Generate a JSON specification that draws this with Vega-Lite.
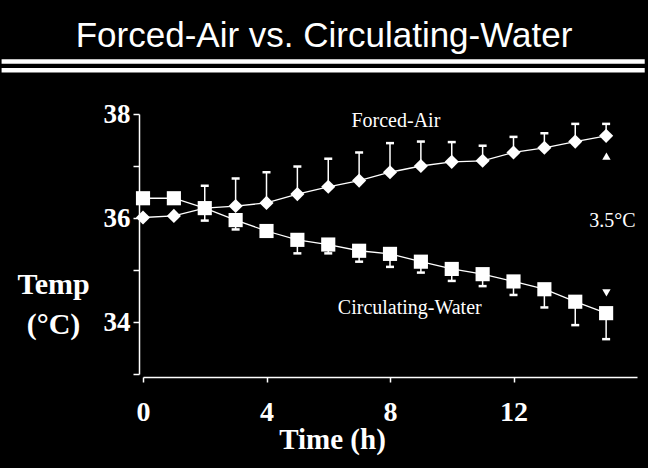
{
  "$schema": "https://vega.github.io/schema/vega-lite/v6.json",
  "width": 494,
  "height": 260,
  "autosize": {"type": "none"},
  "padding": {"left": 143, "top": 114, "right": 11, "bottom": 94},
  "background": "black",
  "config": {"view": {"stroke": null}},
  "title": {
    "text": "Forced-Air vs. Circulating-Water",
    "font": "Liberation Sans",
    "fontSize": 35,
    "fontWeight": "normal",
    "color": "white",
    "anchor": "middle",
    "frame": "group",
    "baseline": "alphabetic",
    "offset": 12,
    "dx": -66,
    "dy": 35
  },
  "datasets": {
    "series": [
      {"group": "Forced-Air", "hour": 0, "temp": 36.01, "err": null},
      {"group": "Forced-Air", "hour": 1, "temp": 36.04, "err": null},
      {"group": "Forced-Air", "hour": 2, "temp": 36.19, "err": 36.62},
      {"group": "Forced-Air", "hour": 3, "temp": 36.23, "err": 36.76},
      {"group": "Forced-Air", "hour": 4, "temp": 36.29, "err": 36.88},
      {"group": "Forced-Air", "hour": 5, "temp": 36.46, "err": 36.99},
      {"group": "Forced-Air", "hour": 6, "temp": 36.60, "err": 37.14},
      {"group": "Forced-Air", "hour": 7, "temp": 36.72, "err": 37.26},
      {"group": "Forced-Air", "hour": 8, "temp": 36.88, "err": 37.44},
      {"group": "Forced-Air", "hour": 9, "temp": 37.00, "err": 37.47},
      {"group": "Forced-Air", "hour": 10, "temp": 37.08, "err": 37.46},
      {"group": "Forced-Air", "hour": 11, "temp": 37.10, "err": 37.39},
      {"group": "Forced-Air", "hour": 12, "temp": 37.26, "err": 37.56},
      {"group": "Forced-Air", "hour": 13, "temp": 37.35, "err": 37.63},
      {"group": "Forced-Air", "hour": 14, "temp": 37.47, "err": 37.81},
      {"group": "Forced-Air", "hour": 15, "temp": 37.58, "err": 37.81},
      {"group": "Circulating-Water", "hour": 0, "temp": 36.38, "err": null},
      {"group": "Circulating-Water", "hour": 1, "temp": 36.38, "err": null},
      {"group": "Circulating-Water", "hour": 2, "temp": 36.19, "err": 35.95},
      {"group": "Circulating-Water", "hour": 3, "temp": 35.96, "err": 35.78},
      {"group": "Circulating-Water", "hour": 4, "temp": 35.75, "err": null},
      {"group": "Circulating-Water", "hour": 5, "temp": 35.58, "err": 35.32},
      {"group": "Circulating-Water", "hour": 6, "temp": 35.49, "err": 35.32},
      {"group": "Circulating-Water", "hour": 7, "temp": 35.37, "err": 35.16},
      {"group": "Circulating-Water", "hour": 8, "temp": 35.31, "err": 35.06},
      {"group": "Circulating-Water", "hour": 9, "temp": 35.16, "err": 34.95},
      {"group": "Circulating-Water", "hour": 10, "temp": 35.02, "err": 34.79},
      {"group": "Circulating-Water", "hour": 11, "temp": 34.92, "err": 34.69},
      {"group": "Circulating-Water", "hour": 12, "temp": 34.78, "err": 34.52},
      {"group": "Circulating-Water", "hour": 13, "temp": 34.63, "err": 34.28},
      {"group": "Circulating-Water", "hour": 14, "temp": 34.39, "err": 33.94},
      {"group": "Circulating-Water", "hour": 15, "temp": 34.17, "err": 33.67}
    ],
    "decor": [
      {"hour": -4.58, "hour2": 16.25, "temp": 39.01},
      {"hour": -4.58, "hour2": 16.25, "temp": 38.84}
    ],
    "arrows": [
      {"hour": 15.01, "temp": 37.19, "shape": "triangle-up"},
      {"hour": 15.01, "temp": 34.56, "shape": "triangle-down"}
    ],
    "notes": [
      {"hour": 8.19, "temp": 37.75, "text": "Forced-Air"},
      {"hour": 8.64, "temp": 34.15, "text": "Circulating-Water"},
      {"hour": 15.2, "temp": 35.83, "text": "3.5°C"}
    ]
  },
  "encoding": {
    "x": {
      "field": "hour",
      "type": "quantitative",
      "scale": {"domain": [0, 16], "nice": false, "zero": false},
      "axis": {
        "values": [0, 4, 8, 12],
        "offset": 3,
        "tickSize": 5,
        "tickWidth": 1.5,
        "tickColor": "white",
        "domainColor": "white",
        "domainWidth": 1.5,
        "grid": false,
        "labelColor": "white",
        "labelFont": "Liberation Serif",
        "labelFontWeight": "bold",
        "labelFontSize": 28,
        "labelBaseline": "alphabetic",
        "labelPadding": 38,
        "labelFlush": false,
        "labelOverlap": false,
        "title": "Time (h)",
        "titleColor": "white",
        "titleFont": "Liberation Serif",
        "titleFontWeight": "bold",
        "titleFontSize": 29,
        "titleAlign": "center",
        "titleBaseline": "alphabetic",
        "titleX": 189,
        "titleY": 71
      }
    },
    "y": {
      "field": "temp",
      "type": "quantitative",
      "scale": {"domain": [33, 38], "nice": false, "zero": false},
      "axis": {
        "values": [33, 34, 35, 36, 37, 38],
        "labelExpr": "datum.value % 2 == 0 ? datum.label : ''",
        "offset": 4,
        "tickSize": 6,
        "tickWidth": 1.5,
        "tickColor": "white",
        "domainColor": "white",
        "domainWidth": 1.5,
        "grid": false,
        "labelColor": "white",
        "labelFont": "Liberation Serif",
        "labelFontWeight": "bold",
        "labelFontSize": 27,
        "labelPadding": 3,
        "labelFlush": false,
        "labelOverlap": false,
        "title": ["Temp", "(°C)"],
        "titleAngle": 0,
        "titleColor": "white",
        "titleFont": "Liberation Serif",
        "titleFontWeight": "bold",
        "titleFontSize": 30,
        "titleAlign": "center",
        "titleBaseline": "alphabetic",
        "titleLineHeight": 40,
        "titleX": -86,
        "titleY": 179
      }
    }
  },
  "layer": [
    {
      "data": {"name": "decor"},
      "mark": {"type": "rule", "color": "white", "strokeWidth": 4.5, "clip": false},
      "encoding": {"x2": {"field": "hour2"}}
    },
    {
      "data": {"name": "series"},
      "transform": [{"filter": "datum.err != null"}],
      "mark": {"type": "rule", "color": "white", "strokeWidth": 1.5},
      "encoding": {"y2": {"field": "err"}}
    },
    {
      "data": {"name": "series"},
      "transform": [{"filter": "datum.err != null"}],
      "mark": {"type": "tick", "color": "white", "orient": "horizontal", "size": 8, "thickness": 2.5, "opacity": 1},
      "encoding": {"y": {"field": "err", "type": "quantitative"}}
    },
    {
      "data": {"name": "series"},
      "mark": {"type": "line", "color": "white", "strokeWidth": 1.3},
      "encoding": {"detail": {"field": "group"}}
    },
    {
      "data": {"name": "series"},
      "mark": {"type": "point", "filled": true, "color": "white", "opacity": 1, "size": 200},
      "encoding": {
        "shape": {
          "field": "group",
          "type": "nominal",
          "scale": {"domain": ["Forced-Air", "Circulating-Water"], "range": ["diamond", "square"]},
          "legend": null
        }
      }
    },
    {
      "data": {"name": "arrows"},
      "mark": {"type": "point", "filled": true, "color": "white", "opacity": 1, "size": 70},
      "encoding": {"shape": {"field": "shape", "type": "nominal", "scale": null}}
    },
    {
      "data": {"name": "notes"},
      "mark": {"type": "text", "color": "white", "font": "Liberation Serif", "fontSize": 20, "align": "center", "baseline": "alphabetic"},
      "encoding": {"text": {"field": "text"}}
    }
  ]
}
